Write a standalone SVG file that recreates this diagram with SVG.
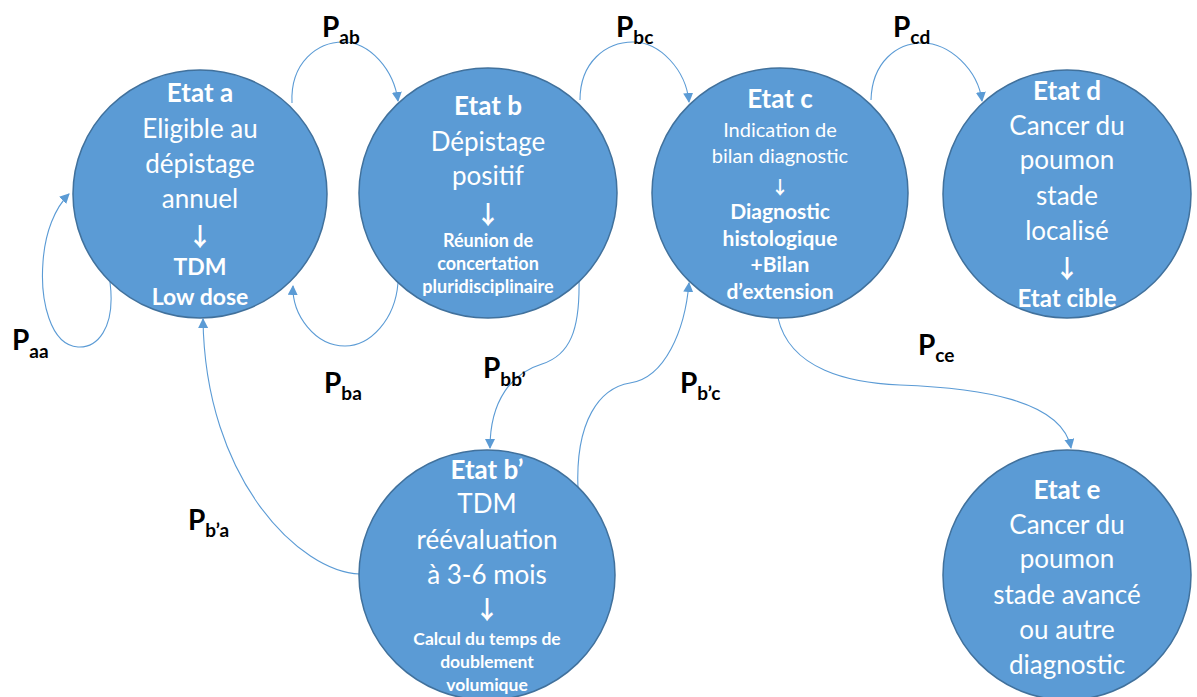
<svg xmlns="http://www.w3.org/2000/svg" width="1197" height="697" viewBox="0 0 1197 697">
<style>
.node ellipse{fill:#5b9bd5;stroke:#41719c;stroke-width:1.5}
.t{font-family:Lato,"Open Sans","Liberation Sans",sans-serif;fill:#ffffff;text-anchor:middle}
.h{font-weight:bold;font-size:26px}
.r{font-size:26px}
.s{font-size:20px}
.sb{font-weight:bold;font-size:18px}
.b{font-weight:bold;font-size:23px}
.ar{font-family:"Noto Sans CJK SC","DejaVu Sans",sans-serif;font-weight:bold;fill:#ffffff;text-anchor:middle;font-size:25px}
.conn path{fill:none;stroke:#5b9bd5;stroke-width:1.1}
.lbl{font-family:Lato,"Liberation Sans",sans-serif;font-weight:bold;font-size:28px;fill:#000000}
.lbl tspan.sub{font-size:19px}
</style>
<defs>
<marker id="ah" markerUnits="userSpaceOnUse" markerWidth="12" markerHeight="12" refX="9" refY="5" orient="auto">
<path d="M0,0 L10,5 L0,10 Z" fill="#5b9bd5"/>
</marker>
</defs>
<rect width="1197" height="697" fill="#ffffff"/>
<g id="connectors" class="conn">
<path id="e-aa" d="M110,282 C116,330 96,348 78,347 C50,345 40,300 43,262 C45,232 55,208 69,194" marker-end="url(#ah)"/>
<path id="e-ab" d="M292,103 C290,62 318,42 343,42 C370,42 394,70 398,101" marker-end="url(#ah)"/>
<path id="e-bc" d="M580,100 C580,62 606,42 633,42 C660,42 686,70 689,102" marker-end="url(#ah)"/>
<path id="e-cd" d="M871,100 C872,62 897,43 922,43 C950,43 978,70 982,101" marker-end="url(#ah)"/>
<path id="e-ba" d="M398,283 C395,320 370,346 345,346 C315,346 292,315 293,286" marker-end="url(#ah)"/>
<path id="e-bbp" d="M579,280 C580,330 570,355 542,364 C512,373 490,400 490,448" marker-end="url(#ah)"/>
<path id="e-bpc" d="M578,490 C575,420 600,388 630,383 C665,378 685,330 689,283" marker-end="url(#ah)"/>
<path id="e-ce" d="M778,318 C790,370 850,383 900,385 C980,388 1062,400 1071,448" marker-end="url(#ah)"/>
<path id="e-bpa" d="M360,574 C300,572 205,480 203,319" marker-end="url(#ah)"/>
</g>
<g id="node-a" class="node">
<ellipse cx="200" cy="194" rx="127" ry="124"/>
<text class="t h" x="200" y="102">Etat a</text>
<text class="t r" x="200" y="138">Eligible au</text>
<text class="t r" x="200" y="173">dépistage</text>
<text class="t r" x="200" y="208">annuel</text>
<text class="ar" x="200" y="246">↓</text>
<text class="t b" x="200" y="275">TDM</text>
<text class="t b" x="200" y="305">Low dose</text>
</g>
<g id="node-b" class="node">
<ellipse cx="488" cy="193" rx="129" ry="125"/>
<text class="t h" x="488" y="115">Etat b</text>
<text class="t r" x="488" y="151">Dépistage</text>
<text class="t r" x="488" y="185">positif</text>
<text class="ar" x="488" y="224">↓</text>
<text class="t sb" x="488" y="247">Réunion de</text>
<text class="t sb" x="488" y="270">concertation</text>
<text class="t sb" x="488" y="293">pluridisciplinaire</text>
</g>
<g id="node-c" class="node">
<ellipse cx="780" cy="193" rx="128" ry="125"/>
<text class="t h" x="780" y="108">Etat c</text>
<text class="t s" x="780" y="137">Indication de</text>
<text class="t s" x="780" y="163">bilan diagnostic</text>
<text class="ar" x="780" y="194" style="font-size:18px">↓</text>
<text class="t" x="780" y="219" style="font-weight:bold;font-size:21px">Diagnostic</text>
<text class="t" x="780" y="246" style="font-weight:bold;font-size:21px">histologique</text>
<text class="t" x="780" y="272" style="font-weight:bold;font-size:21px">+Bilan</text>
<text class="t" x="780" y="299" style="font-weight:bold;font-size:21px">d’extension</text>
</g>
<g id="node-d" class="node">
<ellipse cx="1067" cy="194" rx="124" ry="124"/>
<text class="t h" x="1067" y="100">Etat d</text>
<text class="t r" x="1067" y="135">Cancer du</text>
<text class="t r" x="1067" y="169">poumon</text>
<text class="t r" x="1067" y="205">stade</text>
<text class="t r" x="1067" y="240">localisé</text>
<text class="ar" x="1067" y="278">↓</text>
<text class="t" x="1067" y="307" style="font-weight:bold;font-size:24px">Etat cible</text>
</g>
<g id="node-bp" class="node">
<ellipse cx="487" cy="575" rx="128" ry="125"/>
<text class="t h" x="487" y="479">Etat b’</text>
<text class="t r" x="487" y="513">TDM</text>
<text class="t r" x="487" y="549">réévaluation</text>
<text class="t r" x="487" y="584">à 3-6 mois</text>
<text class="ar" x="487" y="619">↓</text>
<text class="t" x="487" y="645" style="font-weight:bold;font-size:17.5px">Calcul du temps de</text>
<text class="t" x="487" y="668" style="font-weight:bold;font-size:17.5px">doublement</text>
<text class="t" x="487" y="691" style="font-weight:bold;font-size:17.5px">volumique</text>
</g>
<g id="node-e" class="node">
<ellipse cx="1067" cy="575" rx="124" ry="125"/>
<text class="t h" x="1067" y="499">Etat e</text>
<text class="t r" x="1067" y="534">Cancer du</text>
<text class="t r" x="1067" y="568">poumon</text>
<text class="t r" x="1067" y="604">stade avancé</text>
<text class="t r" x="1067" y="639">ou autre</text>
<text class="t r" x="1067" y="674">diagnostic</text>
</g>
<g id="labels">
<text class="lbl" x="322" y="37">P<tspan class="sub" dy="7">ab</tspan></text>
<text class="lbl" x="616" y="37">P<tspan class="sub" dy="7">bc</tspan></text>
<text class="lbl" x="893" y="37">P<tspan class="sub" dy="7">cd</tspan></text>
<text class="lbl" x="12" y="350">P<tspan class="sub" dy="8">aa</tspan></text>
<text class="lbl" x="324" y="393">P<tspan class="sub" dy="7">ba</tspan></text>
<text class="lbl" x="483" y="378">P<tspan class="sub" dy="8">bb’</tspan></text>
<text class="lbl" x="680" y="393">P<tspan class="sub" dy="7">b’c</tspan></text>
<text class="lbl" x="918" y="355">P<tspan class="sub" dy="7">ce</tspan></text>
<text class="lbl" x="188" y="530">P<tspan class="sub" dy="7">b’a</tspan></text>
</g>
</svg>
